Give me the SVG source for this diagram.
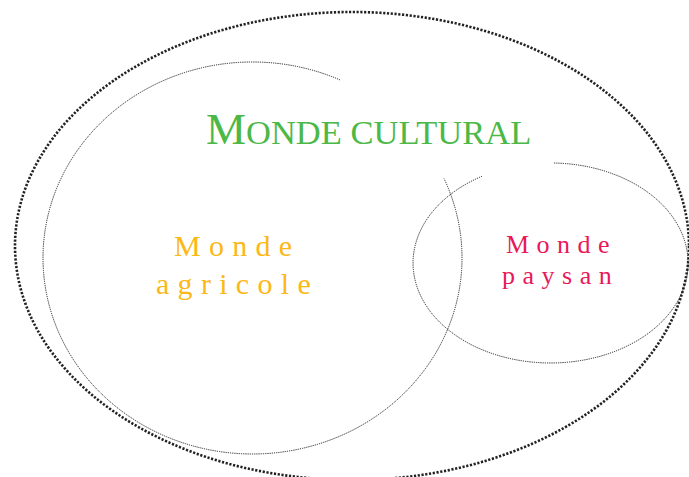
<svg xmlns="http://www.w3.org/2000/svg" width="689" height="477" viewBox="0 0 689 477">
<style>
.outer{fill:none;stroke:#222;stroke-width:2.6;stroke-dasharray:2.2 1.6}
.thin{fill:none;stroke:#222;stroke-width:1;stroke-dasharray:1.2 1}
text{font-family:"Liberation Serif","Times New Roman",serif}
.title{fill:#4cb848}
.agri{fill:#fbb817;font-size:30px;letter-spacing:8.3px}
.pays{fill:#e8185a;font-size:26px;letter-spacing:7.5px}
</style>
<rect width="689" height="477" fill="#fff"/>
<g id="monde-cultural">
<ellipse class="outer" cx="352" cy="246" rx="337" ry="234"/>
<text class="title" x="206" y="144" font-size="34.5"><tspan font-size="45">M</tspan>ONDE CULTURAL</text>
</g>
<g id="monde-agricole">
<path class="thin" d="M340,79.9 A209.5,196 0 1 0 444,178.5"/>
<text class="agri" x="174" y="256">Monde</text>
<text class="agri" x="156" y="294">agricole</text>
</g>
<g id="monde-paysan">
<path class="thin" d="M482,176.3 A137.5,100 0 1 0 553,163"/>
<text class="pays" x="506" y="253">Monde</text>
<text class="pays" x="502" y="284">paysan</text>
</g>
<g id="connectors"/>
</svg>
